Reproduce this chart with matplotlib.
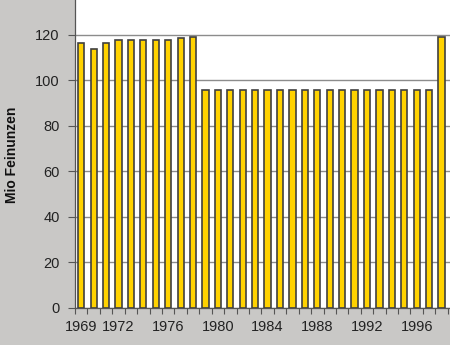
import numpy as np
import matplotlib.pyplot as plt

# Data
years = list(range(1969, 1999))
values = [116.6, 113.9, 116.6, 117.5, 117.7, 117.7, 117.7, 117.7, 118.4, 119.0,
          95.5, 95.5, 95.5, 95.5, 95.5, 95.5, 95.5, 95.5, 95.5, 95.5,
          95.5, 95.5, 95.5, 95.5, 95.5, 95.5, 95.5, 95.5, 95.5, 119.0]
label_years = [1969, 1972, 1976, 1980, 1984, 1988, 1992, 1996]
y_ticks = [0, 20, 40, 60, 80, 100, 120]

plt.rcParams['font.family'] = ['Liberation Sans', 'DejaVu Sans']

fig = plt.figure(figsize=(4.5, 3.45), dpi=100)
fig.patch.set_facecolor('#c9c8c6')
ax = fig.add_axes([75 / 450, 37.5 / 345, 375 / 450, 307.5 / 345])
ax.set_facecolor('white')

x = np.arange(len(years))
ax.bar(x, values, width=0.5, color='#ffd200', edgecolor='#404040', linewidth=1.2, zorder=3)

# Gridlines
ax.set_yticks(y_ticks)
ax.grid(axis='y', color='#8c8c8c', linewidth=1.0, zorder=1)
ax.set_ylim(0, 135.3)
ax.set_xlim(-0.5, 29.68)

# x labels at selected years, ticks between categories
ax.set_xticks([years.index(y) for y in label_years])
ax.set_xticklabels([str(y) for y in label_years])
ax.set_xticks(np.arange(-0.5, len(years), 1), minor=True)
ax.tick_params(axis='x', which='major', length=0, pad=9, labelsize=10.5, colors='#222222')
ax.tick_params(axis='x', which='minor', length=4, width=0.8, color='#555555')
ax.tick_params(axis='y', length=5, width=0.8, color='#555555', pad=6, labelsize=10.5, labelcolor='#222222')

for side in ['top', 'right']:
    ax.spines[side].set_visible(False)
for side in ['left', 'bottom']:
    ax.spines[side].set_color('#555555')
    ax.spines[side].set_linewidth(0.9)

fig.text(12 / 450, 1 - 155 / 345, 'Mio Feinunzen', rotation=90, ha='center', va='center',
         fontsize=10, fontweight='bold', color='#111111')

fig.savefig('out.png', dpi=100, facecolor=fig.get_facecolor())
